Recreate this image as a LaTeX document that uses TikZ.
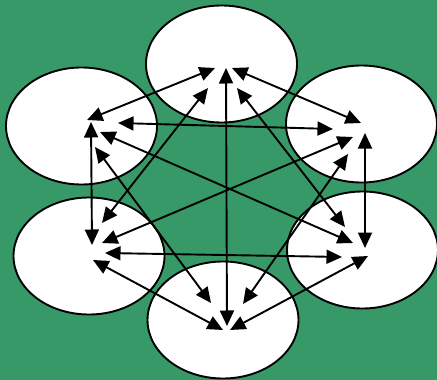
\documentclass[tikz,border=0pt]{standalone}
\usetikzlibrary{shapes.geometric,arrows.meta}
\definecolor{bggreen}{RGB}{56,153,104}
\tikzset{
  blob/.style={ellipse,draw=black,fill=white,line width=1.9pt,inner sep=0pt,minimum width=151pt,minimum height=117pt},
  biarrow/.style={line width=1.9pt,{Triangle[length=15.5pt,width=14pt]}-{Triangle[length=15.5pt,width=14pt]}}
}
\begin{document}
\begin{tikzpicture}[x=1pt,y=-1pt]
\fill[bggreen] (0,0) rectangle (437,380);
\useasboundingbox (0,0) rectangle (437,380);
% ellipses
\node[blob] (top) at (221.5,64) {};
\node[blob] (ul) at (81.5,126) {};
\node[blob] (ur) at (361.5,124) {};
\node[blob] (ll) at (89,256) {};
\node[blob] (lr) at (362.5,250) {};
\node[blob] (bot) at (223,320) {};
% endpoints
\coordinate (tUL) at (215,68);
\coordinate (tB) at (226,68);
\coordinate (tUR) at (232,68);
\coordinate (tLL) at (208,88);
\coordinate (tLR) at (237,88);
\coordinate (ulT) at (87,120);
\coordinate (ulUR) at (118,123);
\coordinate (ulLL) at (91,122);
\coordinate (ulLR) at (100,132);
\coordinate (ulB) at (95,147);
\coordinate (urT) at (361,123);
\coordinate (urUL) at (333,129);
\coordinate (urLL) at (353,137);
\coordinate (urB) at (348,154);
\coordinate (urLR) at (365,133);
\coordinate (llUL) at (92,245);
\coordinate (llT) at (102,223);
\coordinate (llUR) at (102,243);
\coordinate (llLR) at (105,253);
\coordinate (llB) at (93,260);
\coordinate (lrT) at (345,227);
\coordinate (lrUL) at (353,243);
\coordinate (lrUR) at (365,248);
\coordinate (lrLL) at (342,257);
\coordinate (lrB) at (368,256);
\coordinate (bUL) at (211,303);
\coordinate (bT) at (227,326);
\coordinate (bUR) at (243,304);
\coordinate (bLL) at (223,330);
\coordinate (bLR) at (230,330);
% connectors
\draw[biarrow] (tUL) -- (ulT);
\draw[biarrow] (tB) -- (bT);
\draw[biarrow] (tUR) -- (urT);
\draw[biarrow] (tLL) -- (llT);
\draw[biarrow] (tLR) -- (lrT);
\draw[biarrow] (ulUR) -- (urUL);
\draw[biarrow] (ulLL) -- (llUL);
\draw[biarrow] (ulLR) -- (lrUL);
\draw[biarrow] (ulB) -- (bUL);
\draw[biarrow] (urLL) -- (llUR);
\draw[biarrow] (urB) -- (bUR);
\draw[biarrow] (urLR) -- (lrUR);
\draw[biarrow] (llLR) -- (lrLL);
\draw[biarrow] (llB) -- (bLL);
\draw[biarrow] (lrB) -- (bLR);
\end{tikzpicture}
\end{document}
